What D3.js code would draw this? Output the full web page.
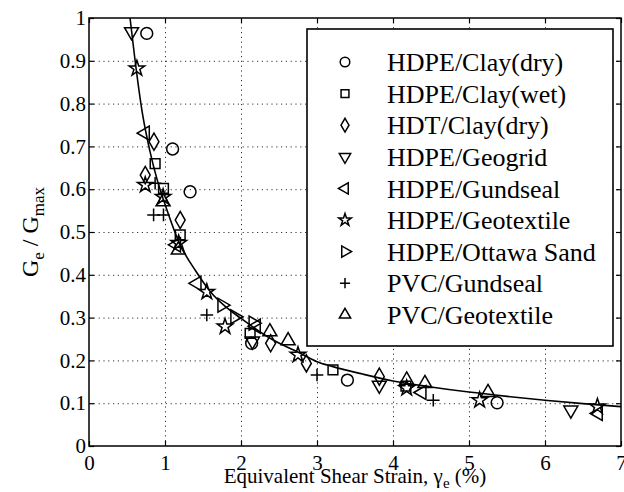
<!DOCTYPE html>
<html>
<head>
<meta charset="utf-8">
<script src="https://cdn.jsdelivr.net/npm/d3@7"></script>
<style>
  body { margin: 0; background: #fff; }
  svg { display: block; }
  svg text { font-family: 'Liberation Serif', 'DejaVu Serif', 'Times New Roman', serif; fill: #000; }
  .grid line { stroke: #333; stroke-dasharray: 1.2, 3.6; }
  .grid .domain { display: none; }
  .axis .domain { display: none; }
  .axis line { stroke: #000; stroke-width: 1.2; }
  .axis text { font-size: 21px; }
  .mark { fill: none; stroke: #000; stroke-width: 1.5; }
</style>
</head>
<body>
<script>
// x ticks / y ticks
const xTicks = [0, 1, 2, 3, 4, 5, 6, 7]
const yTicks = [0, 0.1, 0.2, 0.3, 0.4, 0.5, 0.6, 0.7, 0.8, 0.9, 1]

// measured points, [strain %, Ge/Gmax]
const clayDry = [[0.76, 0.964], [1.1, 0.694], [1.33, 0.594], [2.14, 0.24], [3.4, 0.154], [5.37, 0.101]]
const clayWet = [[0.87, 0.66], [0.98, 0.602], [1.2, 0.493], [2.12, 0.263], [3.21, 0.178], [4.17, 0.14]]
const hdtDry = [[0.855, 0.711], [0.74, 0.633], [1.2, 0.528], [2.39, 0.24], [2.86, 0.193], [3.82, 0.162]]
const geogrid = [[0.56, 0.968], [2.15, 0.245], [3.82, 0.142], [6.34, 0.084]]
const gundseal = [[0.74, 0.731], [1.15, 0.47], [1.42, 0.38], [2.2, 0.28], [4.38, 0.125], [6.7, 0.076]]
const geotextile = [[0.63, 0.882], [0.74, 0.61], [0.975, 0.582], [1.18, 0.474], [1.55, 0.36], [1.79, 0.279], [2.75, 0.213], [4.18, 0.135], [5.14, 0.107], [6.69, 0.092]]
const ottawa = [[1.75, 0.329], [1.92, 0.302], [2.16, 0.287]]
const pvcGundseal = [[0.87, 0.614], [0.85, 0.54], [0.98, 0.54], [1.55, 0.306], [3.0, 0.166], [4.53, 0.107]]
const pvcGeotextile = [[0.975, 0.571], [1.175, 0.458], [2.38, 0.267], [2.62, 0.246], [4.18, 0.154], [4.42, 0.146], [5.25, 0.125]]

// fitted curve
const fitX = [0.54, 0.6, 0.7, 0.8, 0.9, 1.0, 1.2, 1.4, 1.6, 1.8, 2.0, 2.4, 2.8, 3.0, 3.2, 3.6, 4.0, 4.5, 5.0, 5.5, 6.0, 6.5, 7.0]
const fitY = [1.0, 0.91, 0.78, 0.69, 0.62, 0.565, 0.47, 0.41, 0.36, 0.325, 0.298, 0.25, 0.215, 0.197, 0.186, 0.168, 0.152, 0.138, 0.126, 0.116, 0.107, 0.099, 0.092]

const seriesNames = ['HDPE/Clay(dry)', 'HDPE/Clay(wet)', 'HDT/Clay(dry)', 'HDPE/Geogrid', 'HDPE/Gundseal',
  'HDPE/Geotextile', 'HDPE/Ottawa Sand', 'PVC/Gundseal', 'PVC/Geotextile']

const width = 624
const height = 492
const plot = { left: 89, right: 621, top: 18, bottom: 446 }

// thin plus, d3 has no stroke-only one in every v7 build
const plusSymbol = {
  draw(ctx, size) {
    const r = Math.sqrt(size) / 2
    ctx.moveTo(-r, 0)
    ctx.lineTo(r, 0)
    ctx.moveTo(0, -r)
    ctx.lineTo(0, r)
  },
}

const markers = [
  { type: d3.symbolCircle, size: 110, rot: 0 },
  { type: d3.symbolSquare, size: 95, rot: 0 },
  { type: d3.symbolDiamond, size: 85, rot: 0 },
  { type: d3.symbolTriangle, size: 85, rot: 180 },
  { type: d3.symbolTriangle, size: 85, rot: -90 },
  { type: d3.symbolStar, size: 75, rot: 0 },
  { type: d3.symbolTriangle, size: 85, rot: 90 },
  { type: plusSymbol, size: 160, rot: 0 },
  { type: d3.symbolTriangle, size: 85, rot: 0 },
]
const data = [clayDry, clayWet, hdtDry, geogrid, gundseal, geotextile, ottawa, pvcGundseal, pvcGeotextile]

const svg = d3.select('body').append('svg')
  .attr('width', width)
  .attr('height', height)

const x = d3.scaleLinear().domain([0, 7]).range([plot.left, plot.right])
const y = d3.scaleLinear().domain([0, 1]).range([plot.bottom, plot.top])

// dotted grid
svg.append('g')
  .attr('class', 'grid')
  .attr('transform', `translate(0,${plot.bottom})`)
  .call(d3.axisBottom(x).tickValues(xTicks.slice(1, -1)).tickSize(-(plot.bottom - plot.top)).tickFormat(''))
svg.append('g')
  .attr('class', 'grid')
  .attr('transform', `translate(${plot.left},0)`)
  .call(d3.axisLeft(y).tickValues(yTicks.slice(1, -1)).tickSize(-(plot.right - plot.left)).tickFormat(''))

// inward ticks on all four sides
svg.append('g')
  .attr('class', 'axis')
  .attr('transform', `translate(0,${plot.bottom})`)
  .call(d3.axisBottom(x).tickValues(xTicks).tickSize(-5).tickPadding(9).tickFormat(d3.format('d')))
svg.append('g')
  .attr('class', 'axis')
  .attr('transform', `translate(${plot.left},0)`)
  .call(d3.axisLeft(y).tickValues(yTicks).tickSize(-5).tickPadding(3).tickFormat((d) => (d === 0 || d === 1 ? d : d3.format('.1f')(d))))
svg.append('g')
  .attr('class', 'axis')
  .attr('transform', `translate(0,${plot.top})`)
  .call(d3.axisTop(x).tickValues(xTicks).tickSize(-5).tickFormat(''))
svg.append('g')
  .attr('class', 'axis')
  .attr('transform', `translate(${plot.right},0)`)
  .call(d3.axisRight(y).tickValues(yTicks).tickSize(-5).tickFormat(''))

svg.selectAll('.axis').attr('font-family', null)

svg.append('rect')
  .attr('x', plot.left)
  .attr('y', plot.top)
  .attr('width', plot.right - plot.left)
  .attr('height', plot.bottom - plot.top)
  .attr('fill', 'none')
  .attr('stroke', '#000')
  .attr('stroke-width', 1.5)

// fitted curve
const fit = fitX.map((d, i) => [d, fitY[i]])
svg.append('path')
  .datum(fit)
  .attr('fill', 'none')
  .attr('stroke', '#000')
  .attr('stroke-width', 1.6)
  .attr('d', d3.line().x((d) => x(d[0])).y((d) => y(d[1])).curve(d3.curveMonotoneX))

// markers
data.forEach((pts, i) => {
  const m = markers[i]
  svg.append('g')
    .selectAll('path')
    .data(pts)
    .enter()
    .append('path')
    .attr('class', 'mark')
    .attr('transform', (d) => `translate(${x(d[0])},${y(d[1])}) rotate(${m.rot})`)
    .attr('d', d3.symbol().type(m.type).size(m.size))
})

// legend
const lg = svg.append('g')
lg.append('rect')
  .attr('x', 307)
  .attr('y', 29)
  .attr('width', 306)
  .attr('height', 317)
  .attr('fill', '#fff')
  .attr('stroke', '#000')
  .attr('stroke-width', 1.6)

seriesNames.forEach((name, i) => {
  const m = markers[i]
  const ry = 62 + i * 31.6
  lg.append('path')
    .attr('class', 'mark')
    .attr('transform', `translate(345,${ry}) rotate(${m.rot})`)
    .attr('d', d3.symbol().type(m.type).size(m.size * 0.65))
  lg.append('text')
    .attr('x', 387)
    .attr('y', ry)
    .attr('dy', '0.35em')
    .style('font-size', '26px')
    .text(name)
})

// axis titles
const xt = svg.append('text')
  .attr('x', (plot.left + plot.right) / 2)
  .attr('y', 483)
  .attr('text-anchor', 'middle')
  .style('font-size', '21px')
xt.append('tspan').text('Equivalent Shear Strain, \u03b3')
xt.append('tspan').attr('dy', 5).style('font-size', '15px').text('e')
xt.append('tspan').attr('dy', -5).text(' (%)')

const yt = svg.append('text')
  .attr('transform', 'translate(38,232) rotate(-90)')
  .attr('text-anchor', 'middle')
  .style('font-size', '24px')
yt.append('tspan').text('G')
yt.append('tspan').attr('dy', 6).style('font-size', '17px').text('e')
yt.append('tspan').attr('dy', -6).text(' / G')
yt.append('tspan').attr('dy', 6).style('font-size', '17px').text('max')
</script>
</body>
</html>
